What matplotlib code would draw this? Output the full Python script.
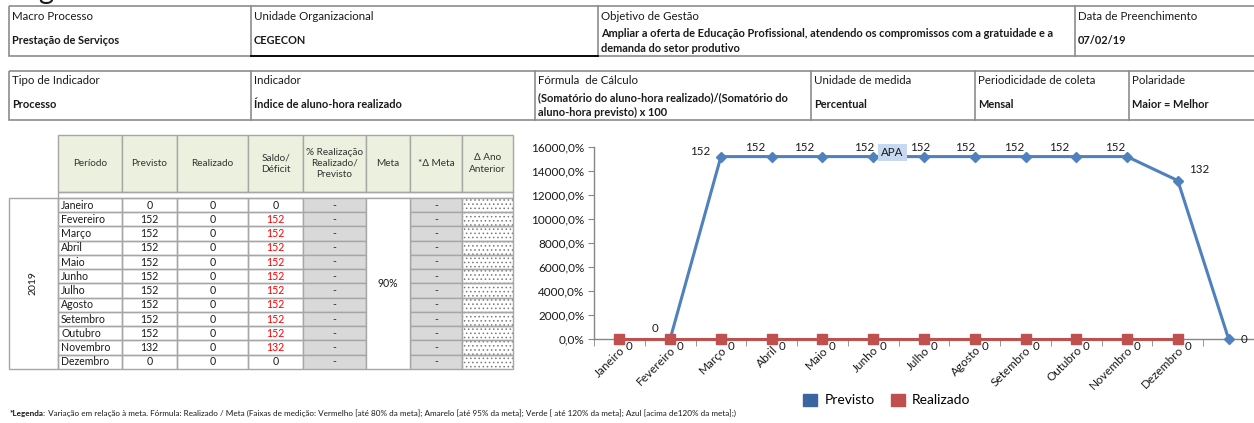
import numpy as np
import matplotlib
matplotlib.use("Agg")
import matplotlib.pyplot as plt
import matplotlib.transforms as mtransforms
from matplotlib.patches import Rectangle, Patch

plt.rcParams["font.family"] = ["Lato", "DejaVu Sans"]
plt.rcParams["hatch.linewidth"] = 0.6

# --- dados ---
meses = ["Janeiro", "Fevereiro", "Março", "Abril", "Maio", "Junho", "Julho",
         "Agosto", "Setembro", "Outubro", "Novembro", "Dezembro"]
previsto = [0, 152, 152, 152, 152, 152, 152, 152, 152, 152, 132, 0]
realizado = [0, 0, 0, 0, 0, 0, 0, 0, 0, 0, 0, 0]
saldo = [0, 152, 152, 152, 152, 152, 152, 152, 152, 152, 132, 0]
meta = "90%"
ano = "2019"

cab1_rot = ["Macro Processo", "Unidade Organizacional", "Objetivo de Gestão",
            "Data de Preenchimento"]
cab1_val = ["Prestação de Serviços", "CEGECON",
            "Ampliar a oferta de Educação Profissional, atendendo os compromissos com a gratuidade e a\ndemanda do setor produtivo",
            "07/02/19"]
cab2_rot = ["Tipo de Indicador", "Indicador", "Fórmula  de Cálculo", "Unidade de medida",
            "Periodicidade de coleta", "Polaridade"]
cab2_val = ["Processo", "Índice de aluno-hora realizado",
            "(Somatório do aluno-hora realizado)/(Somatório do\naluno-hora previsto) x 100",
            "Percentual", "Mensal", "Maior = Melhor"]
col_tab = ["Período", "Previsto", "Realizado", "Saldo/\nDéficit",
           "% Realização\nRealizado/\nPrevisto", "Meta", "*Δ Meta", "Δ Ano\nAnterior"]

W, H = 1254, 423
fig = plt.figure(figsize=(W / 100, H / 100), dpi=100)
fig.patch.set_facecolor("white")

# eixo de fundo em pixels para as tabelas
tab = fig.add_axes([0, 0, 1, 1])
tab.set_xlim(0, W)
tab.set_ylim(H, 0)
tab.axis("off")

borda = "#8C8C8C"
grade = "#A6A6A6"
txt = "#1A1A1A"


def caixa(x0, x1, y0, y1, cor=borda, fc="none", lw=1.2, hatch=None, z=1):
    r = Rectangle((x0, y0), x1 - x0, y1 - y0, fc=fc, ec=cor, lw=lw,
                  hatch=hatch, zorder=z)
    tab.add_patch(r)


# titulo cortado no topo
fig.text(38 / W, (H + 1) / H, "g", fontsize=21, va="baseline", color=txt)

# --- caixa 1 ---
div1 = [9, 251, 598, 1075, 1260]
caixa(9, 1260, 6, 56)
for x in div1[1:-1]:
    tab.plot([x, x], [6, 56], color=borda, lw=1.2)
tab.plot([251, 598], [56, 56], color="black", lw=1.3)
for i, (r, v) in enumerate(zip(cab1_rot, cab1_val)):
    x = div1[i] + 3
    tab.text(x, 16, r, fontsize=8.3, va="center", color=txt)
    if "\n" in v:
        tab.text(x, 41, v, fontsize=7.9, fontweight="bold", va="center",
                 color=txt, linespacing=1.4)
    else:
        tab.text(x, 40, v, fontsize=7.9, fontweight="bold", va="center", color=txt)

# --- caixa 2 ---
div2 = [9, 251, 535, 811, 975, 1129, 1260]
caixa(9, 1260, 71, 120)
for x in div2[1:-1]:
    tab.plot([x, x], [71, 120], color=borda, lw=1.2)
for i, (r, v) in enumerate(zip(cab2_rot, cab2_val)):
    x = div2[i] + 3
    tab.text(x, 80, r, fontsize=8.3, va="center", color=txt)
    if "\n" in v:
        tab.text(x, 105, v, fontsize=7.9, fontweight="bold", va="center",
                 color=txt, linespacing=1.35)
    else:
        tab.text(x, 105, v, fontsize=7.9, fontweight="bold", va="center", color=txt)

# --- tabela principal ---
cols = [58, 122, 177, 248, 303, 366, 410, 462, 513]
y_cab0, y_cab1, y_dad0, y_dad1 = 135, 192, 198, 369
h_lin = (y_dad1 - y_dad0) / len(meses)

for i, nome in enumerate(col_tab):
    x0, x1 = cols[i], cols[i + 1]
    caixa(x0, x1, y_cab0, y_cab1, cor=grade, fc="#EBF1DE", lw=1.0)
    tab.text((x0 + x1) / 2, (y_cab0 + y_cab1) / 2, nome, fontsize=7.2,
             ha="center", va="center", color="#333333", linespacing=1.35)
caixa(cols[0], cols[-1], y_cab1, y_dad0, cor=grade, lw=1.0)

# coluna do ano
caixa(9, 58, y_dad0, y_dad1, cor=grade, lw=1.0)
tab.text(33, (y_dad0 + y_dad1) / 2, ano, rotation=90, fontsize=7.5,
         ha="center", va="center", color=txt)

for j, mes in enumerate(meses):
    y0 = y_dad0 + j * h_lin
    y1 = y0 + h_lin
    yc = (y0 + y1) / 2
    for c in range(8):
        if c == 5:
            continue
        x0, x1 = cols[c], cols[c + 1]
        if c in (4, 6):
            caixa(x0, x1, y0, y1, cor=grade, fc="#D9D9D9", lw=1.0)
            tab.text((x0 + x1) / 2, yc, "-", fontsize=7.5, ha="center",
                     va="center", color=txt)
        elif c == 7:
            caixa(x0, x1, y0, y1, cor="#7A7A7A", fc="white", lw=0,
                  hatch="....", z=1)
            caixa(x0, x1, y0, y1, cor=grade, lw=1.0, z=2)
        else:
            caixa(x0, x1, y0, y1, cor=grade, lw=1.0)
    tab.text(cols[0] + 3, yc, mes, fontsize=7.6, va="center", color=txt)
    tab.text((cols[1] + cols[2]) / 2, yc, str(previsto[j]), fontsize=7.6,
             ha="center", va="center", color=txt)
    tab.text((cols[2] + cols[3]) / 2, yc, str(realizado[j]), fontsize=7.6,
             ha="center", va="center", color=txt)
    tab.text((cols[3] + cols[4]) / 2, yc, str(saldo[j]), fontsize=7.6,
             ha="center", va="center",
             color="#FF0000" if saldo[j] > 0 else txt)

caixa(cols[5], cols[6], y_dad0, y_dad1, cor=grade, fc="white", lw=1.0)
tab.text((cols[5] + cols[6]) / 2, (y_dad0 + y_dad1) / 2, meta, fontsize=7.6,
         ha="center", va="center", color=txt)

# --- grafico ---
ax = fig.add_axes([594 / W, 84 / H, 660 / W, 192 / H])
ax.set_facecolor("none")
x_real = np.arange(len(meses))
x_prev = np.arange(1, len(meses) + 1)

azul = "#4F81BD"
verm = "#C0504D"
ax.plot(x_prev, previsto, color=azul, lw=2.2, marker="D", ms=5,
        clip_on=False, zorder=3)
ax.plot(x_real, realizado, color=verm, lw=2.2, marker="s", ms=6.5,
        clip_on=False, zorder=4)

ax.set_xlim(-0.5, 12.5)
ax.set_ylim(0, 160)
ax.set_yticks(np.arange(0, 161, 20))
ax.yaxis.set_major_formatter(
    plt.FuncFormatter(lambda v, p: f"{v * 100:.1f}".replace(".", ",") + "%"))
ax.set_xticks(x_real)
ax.set_xticklabels(meses, rotation=45, ha="right", rotation_mode="anchor",
                   fontsize=8.5, color=txt)
desloc = mtransforms.ScaledTranslation(12 / 100, -2 / 100, fig.dpi_scale_trans)
for lb in ax.get_xticklabels():
    lb.set_transform(lb.get_transform() + desloc)
ax.set_xticks(np.arange(-0.5, 13, 1), minor=True)
ax.tick_params(axis="x", which="major", length=0, pad=4)
ax.tick_params(axis="x", which="minor", length=5, color="#868686", direction="out")
ax.tick_params(axis="y", length=4, color="#868686", labelsize=8.5,
               labelcolor=txt, pad=3)
for s in ("top", "right"):
    ax.spines[s].set_visible(False)
for s in ("left", "bottom"):
    ax.spines[s].set_color("#868686")
    ax.spines[s].set_linewidth(1.0)

# rotulos dos dados
off_prev = [(-15, 11), (-21, 5), (-17, 9), (-18, 9), (-9, 9), (-4, 9),
            (-10, 9), (-11, 9), (-17, 9), (-12, 9), (21, 11), (15, 0)]
for xp, v, off in zip(x_prev, previsto, off_prev):
    ax.annotate(str(v), (xp, v), xytext=off, textcoords="offset pixels",
                ha="center", va="center", fontsize=8.3, color=txt,
                annotation_clip=False)
for xr, v in zip(x_real, realizado):
    ax.annotate(str(v), (xr, v), xytext=(10, -7), textcoords="offset pixels",
                ha="center", va="center", fontsize=8.3, color=txt,
                annotation_clip=False)

ax.text(5.38, 155.5, "APA", fontsize=8.3, ha="center", va="center", color=txt,
        bbox=dict(boxstyle="square,pad=0.25", fc="#C6D9F1", ec="none"), zorder=5)

fig.legend(handles=[Patch(color="#3A65A0", label="Previsto"),
                    Patch(color=verm, label="Realizado")],
           loc="center", bbox_to_anchor=(887 / W, 23 / H), ncol=2, frameon=False,
           fontsize=10, handlelength=1.0, handleheight=1.0, columnspacing=1.2,
           handletextpad=0.5)

# nota de rodape
leg = fig.text(10 / W, 10 / H, "*Legenda:", fontsize=5.9, fontweight="bold",
               va="center", color=txt)
tab.annotate(" Variação em relação à meta. Fórmula: Realizado / Meta (Faixas de medição: "
             "Vermelho [até 80% da meta]; Amarelo [até 95% da meta]; Verde [ até 120% da meta]; "
             "Azul [acima de120% da meta];)",
             xy=(1, 0.5), xycoords=leg, va="center", fontsize=5.9, color=txt)

fig.savefig("out.png", dpi=100, facecolor="white")
